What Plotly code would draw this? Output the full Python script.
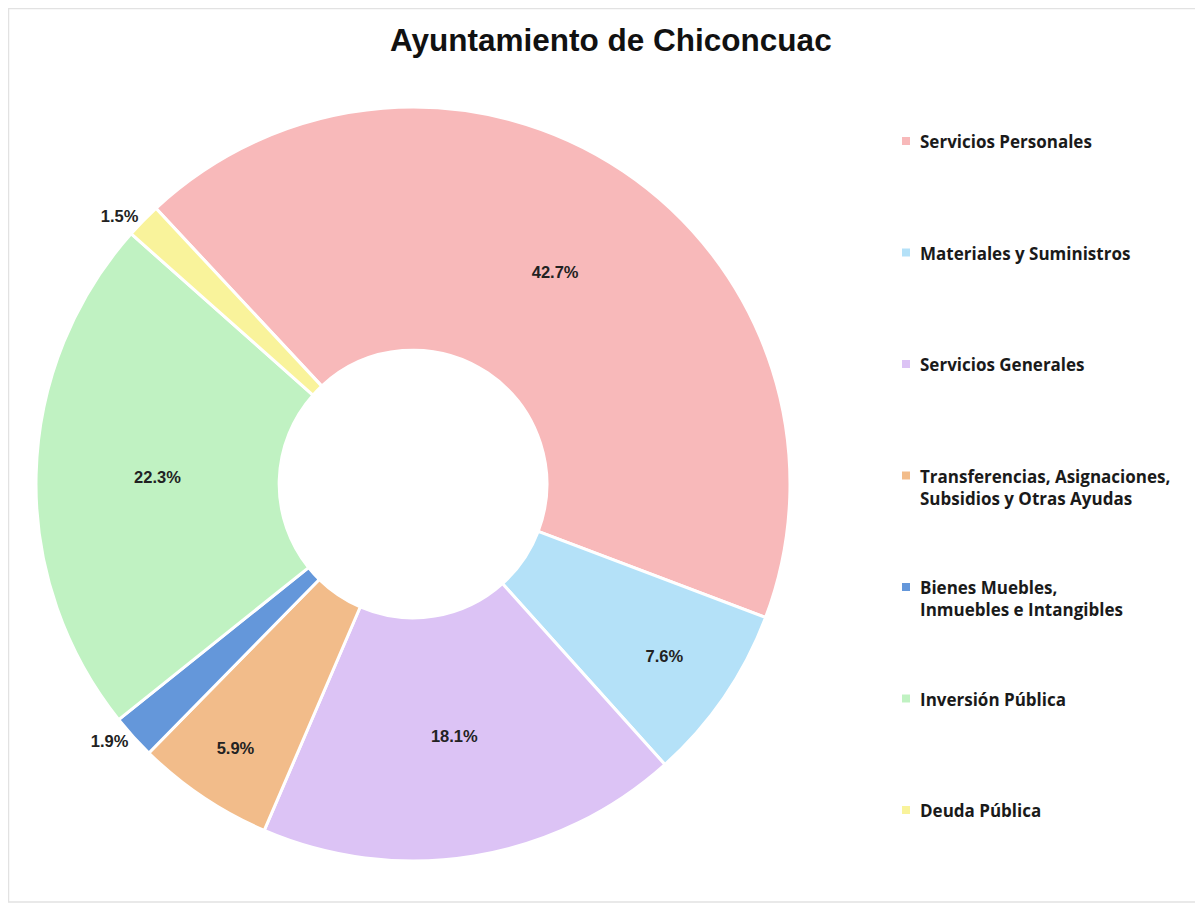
import plotly.graph_objects as go

categories = [
    "Servicios Personales",
    "Materiales y Suministros",
    "Servicios Generales",
    "Transferencias, Asignaciones,<br>Subsidios y Otras Ayudas",
    "Bienes Muebles,<br>Inmuebles e Intangibles",
    "Inversión Pública",
    "Deuda Pública",
]
values = [42.7, 7.6, 18.1, 5.9, 1.9, 22.3, 1.5]
colors = ["#F8B9BA", "#B4E1F8", "#DCC3F5", "#F2BC8A", "#6497DA", "#C0F2C2", "#F9F39B"]
text_pos = ["inside", "inside", "inside", "inside", "outside", "inside", "outside"]

W, H = 1203, 907
OFF = 8  # page body margin offset
cx, cy, R = 413 - OFF, 484 - OFF, 377

fig = go.Figure()
fig.add_trace(go.Pie(
    labels=categories,
    values=values,
    sort=False,
    direction="clockwise",
    rotation=-43,
    hole=0.355,
    marker=dict(colors=colors, line=dict(color="white", width=3)),
    texttemplate="<b>%{value:.1f}%</b>",
    textposition=text_pos,
    insidetextorientation="horizontal",
    textfont=dict(family="Liberation Sans, Arial", size=16.5, color="#222222"),
    showlegend=False,
    hoverinfo="label+percent",
    domain=dict(x=[(cx - R) / W, (cx + R) / W], y=[(H - cy - R) / H, (H - cy + R) / H]),
))

annotations = [dict(
    text="<b>Ayuntamiento de Chiconcuac</b>",
    x=(611 - OFF) / W, y=1 - (40 - OFF) / H, xref="paper", yref="paper",
    xanchor="center", yanchor="middle", showarrow=False,
    font=dict(family="Liberation Sans, Arial", size=31.5, color="#111111"),
)]
shapes = [dict(
    type="rect", xref="paper", yref="paper",
    x0=0.5 / W, x1=1.0, y0=1 - (902 - OFF) / H, y1=1 - 0.5 / H,
    line=dict(color="#E2E2E2", width=1.5), fillcolor="rgba(0,0,0,0)", layer="below",
)]

leg_x, leg_y0, leg_dy = 918 - OFF, 141 - OFF, 111.5
for i, (name, col) in enumerate(zip(categories, colors)):
    yc = leg_y0 + i * leg_dy
    annotations.append(dict(
        text="<b>" + name.replace("<br>", "</b><br><b>") + "</b>",
        x=leg_x / W, y=1 - (yc - 13) / H, xref="paper", yref="paper",
        xanchor="left", yanchor="top", align="left", showarrow=False,
        font=dict(family="Open Sans, Noto Sans", size=17, color="#1a1a1a"),
    ))
    shapes.append(dict(
        type="rect", xref="paper", yref="paper",
        x0=(leg_x - 16) / W, x1=(leg_x - 8) / W, y0=1 - (yc + 4) / H, y1=1 - (yc - 4) / H,
        line=dict(width=0), fillcolor=col,
    ))

fig.update_layout(
    width=W, height=H,
    margin=dict(l=0, r=0, t=0, b=0),
    paper_bgcolor="white",
    plot_bgcolor="white",
    annotations=annotations,
    shapes=shapes,
)

fig.write_html("out.html")
